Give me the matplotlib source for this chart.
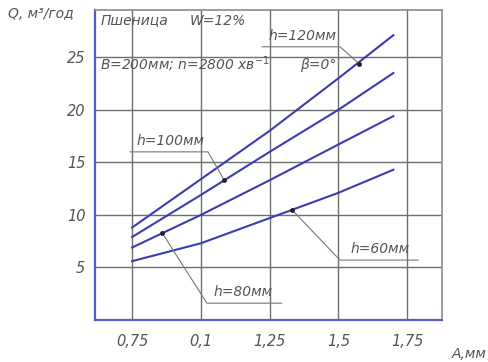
import matplotlib.pyplot as plt

# feed rate values (A, mm)
a_mm = [0.75, 1.0, 1.25, 1.5, 1.7]

# throughput Q, m3/year, for each layer height
q_h120 = [8.8, 13.4, 18.0, 23.0, 27.1]
q_h100 = [7.9, 11.9, 16.0, 20.0, 23.5]
q_h80 = [6.9, 10.0, 13.3, 16.7, 19.4]
q_h60 = [5.6, 7.3, 9.7, 12.1, 14.3]

x_ticks = [0.75, 1.0, 1.25, 1.5, 1.75]
x_tick_labels = ["0,75", "0,1", "1,25", "1,5", "1,75"]
y_ticks = [5, 10, 15, 20, 25]
y_tick_labels = ["5", "10", "15", "20", "25"]

line_color = "#3c3cae"
grid_color = "#6e6e6e"
text_color = "#555555"
font = dict(family=["Liberation Sans Narrow", "DejaVu Sans"], style="italic", color=text_color)
fs = 10

fig = plt.figure(figsize=(4.89, 3.62), dpi=100)
ax = fig.add_axes([0.1943, 0.116, 0.7096, 0.8564])
ax.set_xlim(0.615, 1.877)
ax.set_ylim(0, 29.5)

ax.set_xticks(x_ticks)
ax.set_xticklabels(x_tick_labels, fontdict=font, fontsize=fs + 0.5)
ax.set_yticks(y_ticks)
ax.set_yticklabels(y_tick_labels, fontdict=font, fontsize=fs + 0.5)
ax.tick_params(length=0, pad=7)
ax.tick_params(axis="x", pad=10)
ax.grid(True, color=grid_color, linewidth=1.0)

for side in ["left", "bottom"]:
    ax.spines[side].set_color("#5a5ad0")
    ax.spines[side].set_linewidth(1.6)
for side in ["top", "right"]:
    ax.spines[side].set_color("#8a8a9a")
    ax.spines[side].set_linewidth(1.2)

for q in [q_h120, q_h100, q_h80, q_h60]:
    ax.plot(a_mm, q, color=line_color, linewidth=1.5, zorder=3)

# leader lines: (dot, bend, end of underline, text position, label)
leaders = [
    ((1.575, 24.4), (1.506, 26.0), (1.223, 26.0), (1.245, 26.4), "h=120мм"),
    ((1.085, 13.3), (1.026, 16.0), (0.743, 16.0), (0.765, 16.4), "h=100мм"),
    ((0.860, 8.26), (1.022, 1.6), (1.294, 1.6), (1.045, 2.0), "h=80мм"),
    ((1.331, 10.5), (1.506, 5.7), (1.790, 5.7), (1.543, 6.1), "h=60мм"),
]
for dot, bend, end, pos, label in leaders:
    ax.plot([dot[0], bend[0], end[0]], [dot[1], bend[1], end[1]],
            color="#777777", linewidth=0.8, zorder=4)
    ax.plot(dot[0], dot[1], "o", color="#222222", markersize=2.5, zorder=5)
    ax.text(pos[0], pos[1], label, fontdict=font, fontsize=fs, va="bottom")

ax.text(0.634, 28.5, "Пшеница", fontdict=font, fontsize=fs, va="center")
ax.text(0.96, 28.5, "W=12%", fontdict=font, fontsize=fs, va="center")
ax.text(0.634, 24.3, "B=200мм; n=2800 хв$^{-1}$", fontdict=font, fontsize=fs, va="center")
ax.text(1.36, 24.3, "β=0°", fontdict=font, fontsize=fs, va="center")

fig.text(8 / 489, 1 - 14 / 362, "Q, м³/год", fontdict=font, fontsize=fs, va="center")
fig.text(452 / 489, 1 - 354 / 362, "А,мм", fontdict=font, fontsize=fs, va="center")

fig.savefig("out.png", dpi=100)
